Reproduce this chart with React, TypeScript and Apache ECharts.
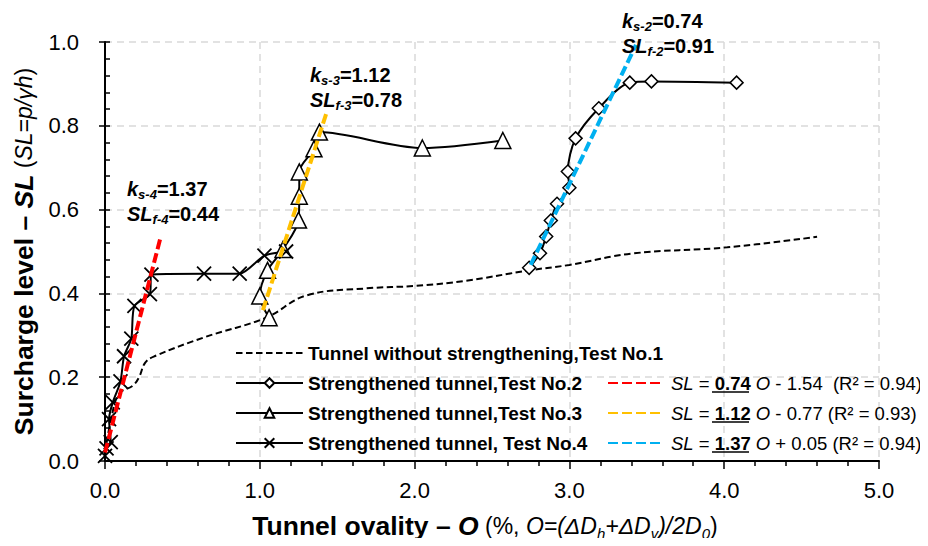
import React, { useEffect, useRef } from "react";
import * as echarts from "echarts";

const FONT = '"Liberation Sans", Arial, Helvetica, sans-serif';

// Test No.1 – tunnel without strengthening (dashed, no markers)
const test1: number[][] = [
  [0.0, 0.02], [0.04, 0.1], [0.09, 0.16], [0.18, 0.18], [0.22, 0.2], [0.26, 0.235],
  [0.32, 0.25], [0.64, 0.295], [1.04, 0.342], [1.3, 0.395], [1.69, 0.412], [2.01, 0.418],
  [2.33, 0.43], [2.74, 0.455], [3.0, 0.468], [3.4, 0.495], [4.02, 0.51], [4.6, 0.535],
];
// Test No.2 – diamonds
const test2: number[][] = [
  [2.74, 0.461], [2.81, 0.496], [2.85, 0.536], [2.88, 0.574], [2.92, 0.614], [3.0, 0.652],
  [2.99, 0.691], [3.04, 0.77], [3.19, 0.842], [3.39, 0.903], [3.53, 0.906], [4.08, 0.903],
];
// Test No.3 – triangles
const test3: number[][] = [
  [1.06, 0.342], [1.0, 0.394], [1.05, 0.455], [1.15, 0.505], [1.25, 0.575], [1.255, 0.632],
  [1.255, 0.69], [1.35, 0.745], [1.385, 0.785], [2.05, 0.747], [2.57, 0.765],
];
// Test No.4 – crosses
const test4: number[][] = [
  [0.0, 0.012], [0.01, 0.03], [0.037, 0.045], [0.026, 0.1], [0.05, 0.14], [0.1, 0.19],
  [0.123, 0.25], [0.17, 0.292], [0.19, 0.37], [0.29, 0.398], [0.3, 0.445], [0.64, 0.447],
  [0.87, 0.447], [1.03, 0.49], [1.17, 0.5],
];
// Linear fits (end points)
const fitRed: number[][] = [[0.0, 0.02], [0.36, 0.535]];
const fitYellow: number[][] = [[1.02, 0.36], [1.43, 0.83]];
const fitBlue: number[][] = [[2.75, 0.468], [3.43, 0.993]];

const seriesNames = [
  "Tunnel without strengthening,Test No.1",
  "Strengthened tunnel,Test No.2",
  "Strengthened tunnel,Test No.3",
  "Strengthened tunnel, Test No.4",
];
const fitSlopes = ["0.74", "1.12", "1.37"];
const fitRest = [" - 1.54  (R² = 0.94)", " - 0.77 (R² = 0.93)", " + 0.05 (R² = 0.94)"];
const fitNames = fitSlopes.map((s, i) => `SL = ${s} O${fitRest[i]}`);

const xMin = 0, xMax = 5, xStep = 1;
const yMin = 0, yMax = 1, yStep = 0.2;

const CROSS = "path://M0,0L10,10M10,0L0,10";
const CLEAR = "rgba(0,0,0,0)";

export default function App() {
  const ref = useRef<HTMLDivElement>(null);
  useEffect(() => {
    if (!ref.current) return;
    const chart = echarts.init(ref.current, undefined, { renderer: "svg" });

    const subRich = (size: number, bold: boolean, italic: boolean) => ({
      fontSize: size, fontFamily: FONT, fontWeight: bold ? "bold" : "normal",
      fontStyle: italic ? "italic" : "normal", color: "#000", verticalAlign: "bottom", lineHeight: size,
    });
    const tRich = (size: number, bold: boolean, italic: boolean, lh: number) => ({
      fontSize: size, fontFamily: FONT, fontWeight: bold ? "bold" : "normal",
      fontStyle: italic ? "italic" : "normal", color: "#000", lineHeight: lh,
    });

    const annoRich = {
      k: tRich(20, true, true, 25),
      v: tRich(20, true, false, 25),
      s: subRich(13, true, true),
    };
    const anno = (x: number, y: number, a: string, b: string, v1: string, v2: string) => ({
      type: "text", x, y, z: 100,
      style: {
        text: `{k|k}{s|${a}}{v|=${v1}}\n{k|SL}{s|${b}}{v|=${v2}}`,
        rich: annoRich, fill: "#000",
      },
    });
    const underline = (x1: number, x2: number, y: number) => ({
      type: "line", z: 100, shape: { x1, y1: y, x2, y2: y }, style: { stroke: "#000", lineWidth: 1.5 },
    });

    const lineW = 2;
    const option: any = {
      animation: false,
      backgroundColor: "#fff",
      textStyle: { fontFamily: FONT },
      grid: { left: 105, right: 49, top: 42, bottom: 84 },
      xAxis: {
        type: "value", min: xMin, max: xMax, interval: xStep,
        axisLine: { show: true, lineStyle: { color: "#000", width: 2 } },
        axisTick: { show: true, length: 8, lineStyle: { color: "#000", width: 1.5 } },
        minorTick: { show: true, splitNumber: 5, length: 5, lineStyle: { color: "#000", width: 1.5 } },
        axisLabel: { formatter: (v: number) => v.toFixed(1), fontSize: 22, color: "#000", margin: 18, fontFamily: FONT },
        splitLine: { show: true, lineStyle: { color: "#d9d9d9", type: [7, 5], width: 1.5 } },
        name: "{b|Tunnel ovality – }{bi|O}{n| (%, }{i|O=(ΔD}{s|h}{i|+ΔD}{s|v}{i|)/2D}{s|0}{n|)}",
        nameLocation: "middle", nameGap: 50,
        nameTextStyle: {
          padding: [0, 14, 0, 0],
          rich: {
            b: tRich(26.5, true, false, 30), bi: tRich(26.5, true, true, 30),
            n: tRich(23, false, false, 30), i: tRich(23, false, true, 30),
            s: subRich(15, false, true),
          },
        },
      },
      yAxis: [
        {
          type: "value", min: yMin, max: yMax, interval: yStep,
          axisLine: { show: true, lineStyle: { color: "#000", width: 2 } },
          axisTick: { show: true, inside: true, length: 5, lineStyle: { color: "#000", width: 1.5 } },
          minorTick: { show: true, splitNumber: 5, length: 5, lineStyle: { color: "#000", width: 1.5 } },
          axisLabel: { formatter: (v: number) => v.toFixed(1), fontSize: 22, color: "#000", margin: 26, fontFamily: FONT },
          splitLine: { show: true, lineStyle: { color: "#d9d9d9", type: [7, 5], width: 1.5 } },
          name: "{b|Surcharge level – }{bi|SL}{n| (}{i|SL}{n|=}{i|p/γh}{n|)}",
          nameLocation: "middle", nameGap: 64, nameRotate: 90,
          nameTextStyle: {
            rich: {
              b: tRich(26.5, true, false, 30), bi: tRich(26.5, true, true, 30),
              n: tRich(23, false, false, 30), i: tRich(23, false, true, 30),
            },
          },
        },
        {
          type: "value", min: yMin, max: yMax, interval: yStep, position: "left",
          axisLine: { show: false },
          axisTick: { show: true, inside: false, length: 6, lineStyle: { color: "#000", width: 1.5 } },
          axisLabel: { show: false },
          splitLine: { show: false },
        },
      ],
      legend: [
        {
          data: seriesNames, orient: "vertical", left: 235, top: 343, padding: 0,
          itemWidth: 67, itemHeight: 12, itemGap: 10,
          textStyle: { fontSize: 19, fontWeight: "bold", color: "#000", fontFamily: FONT, lineHeight: 20 },
          selectedMode: false,
        },
        {
          data: fitNames, orient: "vertical", left: 607, top: 373, padding: 0,
          itemWidth: 52, itemHeight: 12, itemGap: 10,
          formatter: (name: string) => {
            const i = fitNames.indexOf(name);
            return `{i|SL} = {b|${fitSlopes[i]}} {i|O}${fitRest[i]}`;
          },
          textStyle: {
            fontSize: 18.5, color: "#000", fontFamily: FONT, lineHeight: 20, padding: [0, 0, 0, 6],
            rich: {
              i: tRich(18.5, false, true, 20),
              b: tRich(18.5, true, false, 20),
            },
          },
          selectedMode: false,
        },
      ],
      series: [
        {
          name: seriesNames[0], type: "line", data: test1, symbol: "none", smooth: 0.4,
          lineStyle: { color: "#000", width: lineW, type: [6.5, 3.5] }, itemStyle: { color: CLEAR }, z: 2,
        },
        {
          name: seriesNames[1], type: "line", data: test2, symbol: "diamond", symbolSize: 13, smooth: 0.3,
          lineStyle: { color: "#000", width: lineW }, itemStyle: { color: "#fff", borderColor: "#000", borderWidth: 1.5 }, z: 3,
        },
        {
          name: seriesNames[2], type: "line", data: test3, symbol: "triangle", symbolSize: 16, smooth: 0.3,
          lineStyle: { color: "#000", width: lineW }, itemStyle: { color: "#fff", borderColor: "#000", borderWidth: 1.5 }, z: 3,
        },
        {
          name: seriesNames[3], type: "line", data: test4, symbol: CROSS, symbolSize: 14, smooth: 0.25,
          lineStyle: { color: "#000", width: lineW }, itemStyle: { color: "none", borderColor: "#000", borderWidth: 1.8 }, z: 3,
        },
        {
          name: fitNames[0], type: "line", data: fitRed, symbol: "none",
          lineStyle: { color: "#ff0000", width: 4, type: [10, 4] }, itemStyle: { color: CLEAR }, z: 4,
        },
        {
          name: fitNames[1], type: "line", data: fitYellow, symbol: "none",
          lineStyle: { color: "#ffc000", width: 4, type: [10, 4] }, itemStyle: { color: CLEAR }, z: 4,
        },
        {
          name: fitNames[2], type: "line", data: fitBlue, symbol: "none",
          lineStyle: { color: "#00b0f0", width: 4, type: [10, 4] }, itemStyle: { color: CLEAR }, z: 4,
        },
      ],
      graphic: [
        anno(127, 176, "s-4", "f-4", "1.37", "0.44"),
        anno(310, 62, "s-3", "f-3", "1.12", "0.78"),
        anno(622, 8, "s-2", "f-2", "0.74", "0.91"),
        underline(712, 749, 392),
        underline(712, 749, 422),
        underline(712, 749, 452),
      ],
    };
    chart.setOption(option);
    return () => chart.dispose();
  }, []);
  return <div ref={ref} style={{ width: 928, height: 546, margin: -8 }} />;
}
